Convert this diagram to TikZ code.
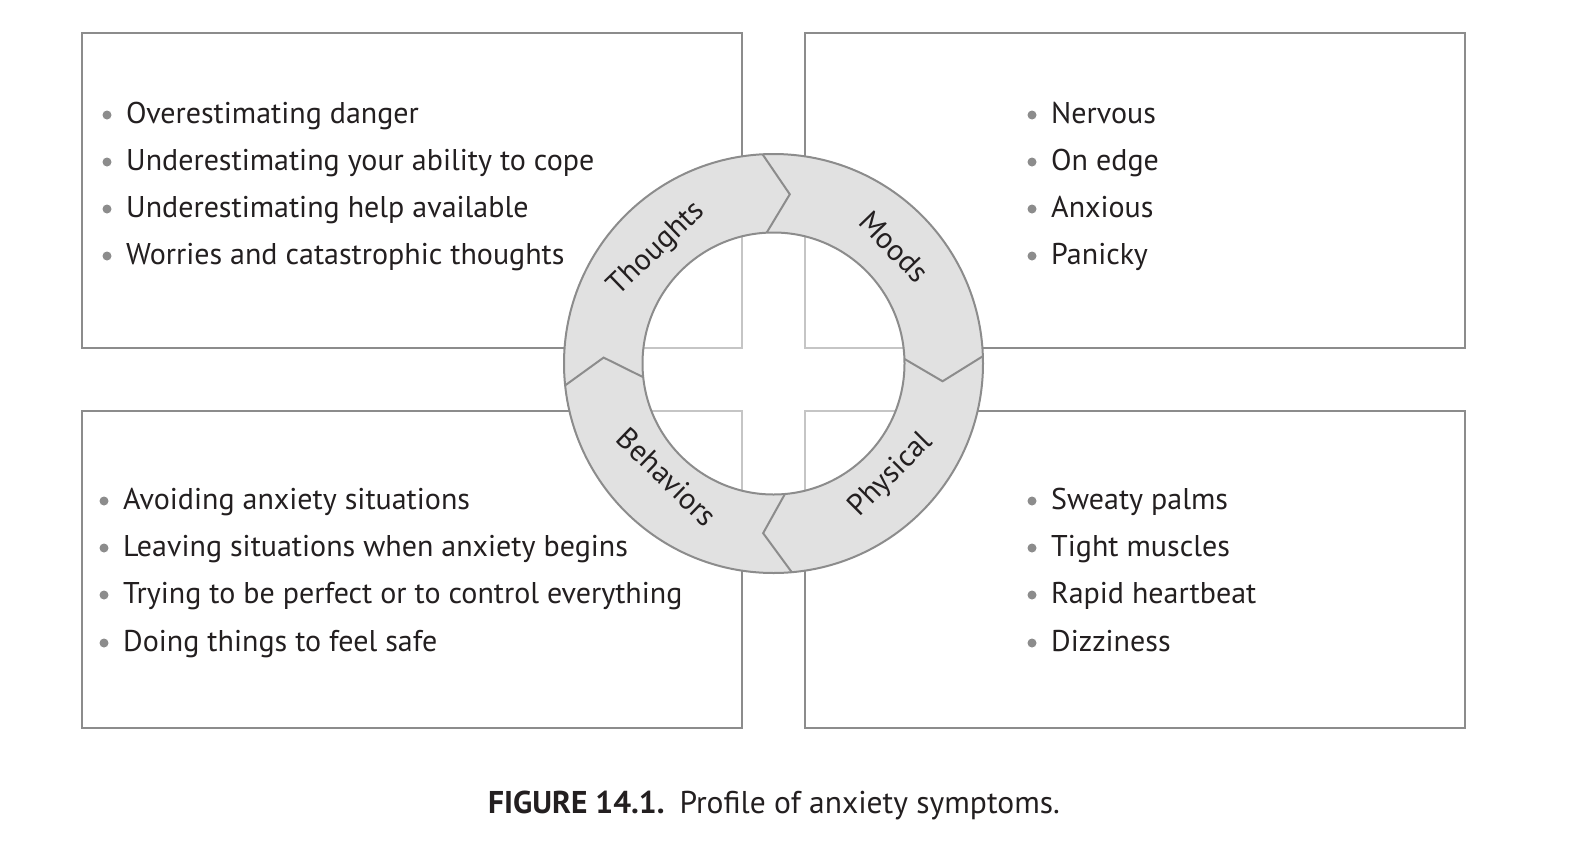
\documentclass[tikz,border=0pt]{standalone}
\usepackage{fontspec}
\setmainfont{PT Sans}
\usetikzlibrary{calc}
\definecolor{edge}{HTML}{8C8C8C}
\definecolor{ringfill}{HTML}{E1E1E1}
\definecolor{ink}{HTML}{231F20}
\tikzset{
  box/.style={draw=edge, line width=2pt, fill=white, minimum width=660pt, inner sep=0pt, outer sep=0pt},
  item/.style={anchor=base west, font=\fontsize{30}{35}\selectfont, inner sep=0pt, text=ink},
  dot/.style={circle, fill=edge, minimum size=9pt, inner sep=0pt},
  ringlabel/.style={font=\fontsize{30}{35}\selectfont, text=ink, inner sep=0pt},
  ringline/.style={draw=edge, line width=2pt, line join=miter},
  caption/.style={anchor=base, font=\fontsize{31.5}{36}\selectfont, text=ink, inner sep=0pt}
}
\begin{document}
\begin{tikzpicture}[x=1pt,y=-1pt]
\useasboundingbox[fill=white] (0,0) rectangle (1572,852);
% boxes
\node[box, minimum height=315pt] (tl) at (412,190.5) {};
\node[box, minimum height=315pt] (tr) at (1135,190.5) {};
\node[box, minimum height=317pt] (bl) at (412,569.5) {};
\node[box, minimum height=317pt] (br) at (1135,569.5) {};
% ring
\coordinate (c) at (773.5,363.5);
\fill[ringfill, even odd rule] (c) circle[radius=209.5pt] (c) circle[radius=131pt];
% chevron joints
\foreach \a/\t in {93/84.5, 2/-6, 275/266.5, 186/178}{
  \draw[ringline] ($(c)+(\a:209.5pt)$) -- ($(c)+(\t:170pt)$) -- ($(c)+(\a:131pt)$);
}
\draw[ringline] (c) circle[radius=209.5pt];
\fill[white, opacity=0.5] (c) circle[radius=131pt];
\draw[ringline] (c) circle[radius=131pt];
% ring labels
\node[ringlabel, rotate=44] (thoughts) at (657,249) {Thoughts};
\node[ringlabel, rotate=-46] (moods) at (894,247) {Moods};
\node[ringlabel, rotate=45] (physical) at (891,475) {Physical};
\node[ringlabel, rotate=-44] (behaviors) at (667,477) {Behaviors};
% top-left list
\foreach \i/\y/\s in {1/123/Overestimating danger, 2/170/Underestimating your ability to cope, 3/217/Underestimating help available, 4/264/Worries and catastrophic thoughts}{
  \node[dot] (tld\i) at (107,\y-8) {};
  \node[item] (tlt\i) at (126,\y) {\s};
}
% top-right list
\foreach \i/\y/\s in {1/123/Nervous, 2/170/On edge, 3/217/Anxious, 4/264/Panicky}{
  \node[dot] (trd\i) at (1032,\y-8) {};
  \node[item] (trt\i) at (1051,\y) {\s};
}
% bottom-left list
\foreach \i/\y/\s in {1/509/Avoiding anxiety situations, 2/556/Leaving situations when anxiety begins, 3/603/Trying to be perfect or to control everything, 4/651/Doing things to feel safe}{
  \node[dot] (bld\i) at (104,\y-8) {};
  \node[item] (blt\i) at (123,\y) {\s};
}
% bottom-right list
\foreach \i/\y/\s in {1/509/Sweaty palms, 2/556/Tight muscles, 3/603/Rapid heartbeat, 4/651/Dizziness}{
  \node[dot] (brd\i) at (1032,\y-8) {};
  \node[item] (brt\i) at (1051,\y) {\s};
}
% caption
\node[caption] (cap) at (774,813) {\textbf{FIGURE 14.1.}\hspace{15pt}Profile of anxiety symptoms.};
\end{tikzpicture}
\end{document}
